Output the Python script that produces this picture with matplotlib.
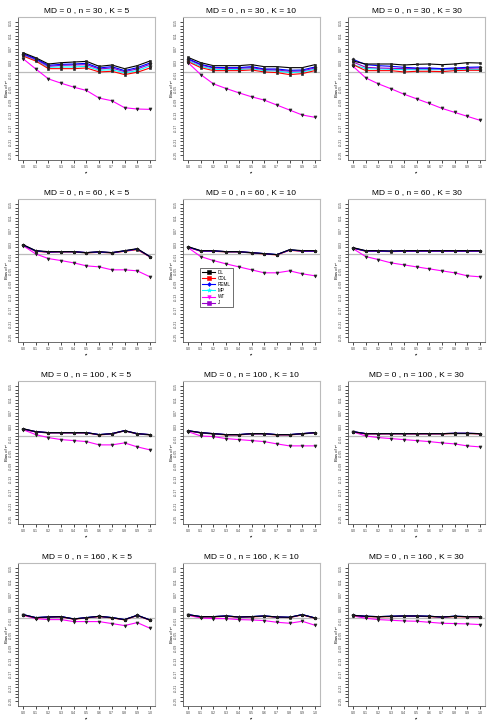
import numpy as np
import matplotlib
matplotlib.use("Agg")
import matplotlib.pyplot as plt
from matplotlib.ticker import FixedLocator
from matplotlib.lines import Line2D

plt.rcParams['font.family'] = ['Liberation Sans', 'DejaVu Sans']

tau2 = [0.0, 0.1, 0.2, 0.3, 0.4, 0.5, 0.6, 0.7, 0.8, 0.9, 1.0]
tau_labels = ["0.0", "0.1", "0.2", "0.3", "0.4", "0.5", "0.6", "0.7", "0.8", "0.9", "1.0"]
ytick_vals = [0.15, 0.11, 0.07, 0.03, -0.01, -0.05, -0.09, -0.13, -0.17, -0.21, -0.25]
ytick_labels = ["0.15", "0.11", "0.07", "0.03", "-0.01", "-0.05", "-0.09", "-0.13", "-0.17", "-0.21", "-0.25"]
methods = ["DL", "CDL", "REML", "MP", "WT", "J"]
sizes_n = [30, 60, 100, 160]
sizes_K = [5, 10, 30]

# ---- n = 30 ----
DL_30_5   = [0.058, 0.043, 0.024, 0.028, 0.030, 0.032, 0.017, 0.021, 0.010, 0.019, 0.033]
CDL_30_5  = [0.048, 0.033, 0.010, 0.010, 0.010, 0.012, 0.000, 0.002, -0.008, -0.001, 0.012]
REML_30_5 = [0.055, 0.040, 0.020, 0.023, 0.024, 0.026, 0.012, 0.016, 0.004, 0.013, 0.027]
MP_30_5   = [0.050, 0.035, 0.014, 0.015, 0.015, 0.017, 0.005, 0.007, -0.003, 0.004, 0.018]
WT_30_5   = [0.040, 0.009, -0.021, -0.034, -0.046, -0.056, -0.079, -0.087, -0.108, -0.112, -0.113]
J_30_5    = [0.053, 0.038, 0.017, 0.020, 0.021, 0.022, 0.009, 0.012, 0.001, 0.009, 0.023]

DL_30_10   = [0.044, 0.028, 0.019, 0.019, 0.019, 0.022, 0.016, 0.016, 0.013, 0.013, 0.022]
CDL_30_10  = [0.031, 0.013, 0.004, 0.004, 0.004, 0.006, 0.000, -0.002, -0.008, -0.005, 0.004]
REML_30_10 = [0.040, 0.023, 0.014, 0.013, 0.013, 0.016, 0.009, 0.009, 0.005, 0.006, 0.015]
MP_30_10   = [0.034, 0.017, 0.008, 0.007, 0.007, 0.010, 0.004, 0.003, -0.002, 0.000, 0.008]
WT_30_10   = [0.028, -0.008, -0.036, -0.050, -0.063, -0.075, -0.085, -0.100, -0.115, -0.130, -0.137]
J_30_10    = [0.038, 0.021, 0.012, 0.011, 0.011, 0.013, 0.007, 0.006, 0.002, 0.003, 0.012]

DL_30_30   = [0.033, 0.024, 0.024, 0.024, 0.021, 0.023, 0.024, 0.022, 0.024, 0.028, 0.027]
CDL_30_30  = [0.022, 0.004, 0.004, 0.004, 0.000, 0.002, 0.002, 0.001, 0.004, 0.005, 0.005]
REML_30_30 = [0.038, 0.022, 0.019, 0.017, 0.014, 0.012, 0.012, 0.010, 0.012, 0.014, 0.015]
MP_30_30   = [0.022, 0.010, 0.009, 0.008, 0.007, 0.007, 0.007, 0.007, 0.007, 0.007, 0.007]
WT_30_30   = [0.017, -0.018, -0.036, -0.051, -0.067, -0.081, -0.095, -0.110, -0.122, -0.134, -0.146]
J_30_30    = [0.030, 0.014, 0.012, 0.011, 0.010, 0.010, 0.010, 0.009, 0.010, 0.011, 0.012]

# ---- n = 60 ----
DL_60_5   = [0.028, 0.010, 0.007, 0.007, 0.007, 0.004, 0.007, 0.004, 0.010, 0.016, -0.008]
CDL_60_5  = [0.026, 0.008, 0.005, 0.006, 0.006, 0.003, 0.005, 0.003, 0.008, 0.013, -0.009]
REML_60_5 = [0.027, 0.009, 0.006, 0.007, 0.007, 0.004, 0.006, 0.004, 0.009, 0.015, -0.008]
MP_60_5   = [0.026, 0.009, 0.006, 0.006, 0.006, 0.003, 0.006, 0.003, 0.009, 0.014, -0.008]
WT_60_5   = [0.025, 0.000, -0.014, -0.020, -0.027, -0.036, -0.039, -0.048, -0.048, -0.051, -0.069]
J_60_5    = [0.027, 0.009, 0.006, 0.007, 0.007, 0.004, 0.006, 0.004, 0.009, 0.015, -0.008]

DL_60_10   = [0.022, 0.010, 0.010, 0.007, 0.007, 0.004, 0.001, -0.002, 0.013, 0.010, 0.010]
CDL_60_10  = [0.020, 0.008, 0.008, 0.006, 0.006, 0.003, 0.000, -0.003, 0.011, 0.008, 0.008]
REML_60_10 = [0.021, 0.009, 0.009, 0.007, 0.007, 0.004, 0.001, -0.002, 0.012, 0.009, 0.009]
MP_60_10   = [0.021, 0.009, 0.009, 0.006, 0.006, 0.003, 0.001, -0.002, 0.012, 0.009, 0.009]
WT_60_10   = [0.019, -0.008, -0.020, -0.030, -0.039, -0.048, -0.057, -0.057, -0.051, -0.060, -0.066]
J_60_10    = [0.021, 0.009, 0.009, 0.007, 0.007, 0.004, 0.001, -0.002, 0.012, 0.009, 0.009]

DL_60_30   = [0.019, 0.010, 0.010, 0.009, 0.010, 0.010, 0.010, 0.010, 0.010, 0.010, 0.010]
CDL_60_30  = [0.017, 0.008, 0.008, 0.007, 0.008, 0.008, 0.008, 0.008, 0.008, 0.008, 0.008]
REML_60_30 = [0.018, 0.009, 0.009, 0.008, 0.009, 0.009, 0.009, 0.009, 0.009, 0.009, 0.009]
MP_60_30   = [0.018, 0.009, 0.009, 0.008, 0.009, 0.009, 0.009, 0.009, 0.009, 0.009, 0.009]
WT_60_30   = [0.016, -0.008, -0.017, -0.027, -0.033, -0.039, -0.045, -0.051, -0.057, -0.066, -0.069]
J_60_30    = [0.018, 0.009, 0.009, 0.008, 0.009, 0.009, 0.009, 0.009, 0.009, 0.009, 0.009]

# ---- n = 100 ----
DL_100_5   = [0.022, 0.013, 0.010, 0.010, 0.010, 0.010, 0.004, 0.007, 0.016, 0.007, 0.004]
CDL_100_5  = [0.020, 0.012, 0.009, 0.009, 0.009, 0.009, 0.003, 0.006, 0.015, 0.006, 0.003]
REML_100_5 = [0.021, 0.013, 0.010, 0.010, 0.010, 0.010, 0.004, 0.007, 0.016, 0.007, 0.004]
MP_100_5   = [0.021, 0.012, 0.009, 0.009, 0.009, 0.009, 0.004, 0.006, 0.015, 0.006, 0.003]
WT_100_5   = [0.019, 0.004, -0.005, -0.011, -0.014, -0.017, -0.027, -0.027, -0.021, -0.033, -0.042]
J_100_5    = [0.021, 0.013, 0.010, 0.010, 0.010, 0.010, 0.004, 0.007, 0.016, 0.007, 0.004]

DL_100_10   = [0.016, 0.010, 0.007, 0.004, 0.004, 0.007, 0.007, 0.004, 0.004, 0.007, 0.010]
CDL_100_10  = [0.015, 0.009, 0.006, 0.003, 0.003, 0.006, 0.006, 0.003, 0.003, 0.006, 0.009]
REML_100_10 = [0.016, 0.010, 0.007, 0.004, 0.004, 0.007, 0.007, 0.004, 0.004, 0.007, 0.010]
MP_100_10   = [0.015, 0.009, 0.006, 0.004, 0.004, 0.006, 0.006, 0.004, 0.004, 0.006, 0.009]
WT_100_10   = [0.013, 0.000, -0.002, -0.008, -0.011, -0.014, -0.017, -0.024, -0.030, -0.030, -0.030]
J_100_10    = [0.016, 0.010, 0.007, 0.004, 0.004, 0.007, 0.007, 0.004, 0.004, 0.007, 0.010]

DL_100_30   = [0.013, 0.007, 0.007, 0.007, 0.007, 0.007, 0.007, 0.007, 0.008, 0.008, 0.007]
CDL_100_30  = [0.012, 0.006, 0.006, 0.006, 0.006, 0.006, 0.006, 0.006, 0.007, 0.007, 0.006]
REML_100_30 = [0.013, 0.007, 0.007, 0.007, 0.007, 0.007, 0.007, 0.007, 0.008, 0.008, 0.007]
MP_100_30   = [0.012, 0.007, 0.007, 0.007, 0.007, 0.007, 0.007, 0.007, 0.007, 0.007, 0.007]
WT_100_30   = [0.012, 0.000, -0.005, -0.008, -0.011, -0.014, -0.017, -0.021, -0.024, -0.030, -0.033]
J_100_30    = [0.013, 0.007, 0.007, 0.007, 0.007, 0.007, 0.007, 0.007, 0.008, 0.008, 0.007]

# ---- n = 160 ----
DL_160_5   = [0.010, 0.001, 0.003, 0.004, -0.003, 0.001, 0.005, 0.001, -0.005, 0.008, -0.006]
CDL_160_5  = [0.009, 0.000, 0.002, 0.003, -0.004, 0.000, 0.004, 0.000, -0.006, 0.007, -0.007]
REML_160_5 = [0.010, 0.001, 0.003, 0.004, -0.003, 0.001, 0.005, 0.001, -0.005, 0.008, -0.006]
MP_160_5   = [0.010, 0.001, 0.003, 0.004, -0.003, 0.001, 0.005, 0.001, -0.005, 0.008, -0.006]
WT_160_5   = [0.008, -0.002, -0.005, -0.005, -0.011, -0.011, -0.011, -0.017, -0.023, -0.014, -0.031]
J_160_5    = [0.010, 0.001, 0.003, 0.004, -0.003, 0.001, 0.005, 0.001, -0.005, 0.008, -0.006]

DL_160_10   = [0.010, 0.004, 0.004, 0.006, 0.003, 0.004, 0.006, 0.003, 0.002, 0.010, 0.000]
CDL_160_10  = [0.009, 0.003, 0.003, 0.005, 0.002, 0.003, 0.005, 0.002, 0.001, 0.009, -0.001]
REML_160_10 = [0.010, 0.004, 0.004, 0.006, 0.003, 0.004, 0.006, 0.003, 0.002, 0.010, 0.000]
MP_160_10   = [0.010, 0.004, 0.004, 0.006, 0.003, 0.004, 0.006, 0.003, 0.002, 0.010, 0.000]
WT_160_10   = [0.008, 0.000, -0.002, -0.002, -0.005, -0.006, -0.008, -0.013, -0.016, -0.010, -0.022]
J_160_10    = [0.010, 0.004, 0.004, 0.006, 0.003, 0.004, 0.006, 0.003, 0.002, 0.010, 0.000]

DL_160_30   = [0.008, 0.005, 0.004, 0.005, 0.006, 0.006, 0.005, 0.003, 0.005, 0.004, 0.004]
CDL_160_30  = [0.007, 0.004, 0.003, 0.004, 0.005, 0.005, 0.004, 0.002, 0.004, 0.003, 0.003]
REML_160_30 = [0.008, 0.005, 0.004, 0.005, 0.006, 0.006, 0.005, 0.003, 0.005, 0.004, 0.004]
MP_160_30   = [0.008, 0.005, 0.004, 0.005, 0.006, 0.006, 0.005, 0.003, 0.005, 0.004, 0.004]
WT_160_30   = [0.006, -0.001, -0.005, -0.007, -0.009, -0.010, -0.013, -0.016, -0.017, -0.018, -0.020]
J_160_30    = [0.008, 0.005, 0.004, 0.005, 0.006, 0.006, 0.005, 0.003, 0.005, 0.004, 0.004]

panels = {
    (30, 5): [DL_30_5, CDL_30_5, REML_30_5, MP_30_5, WT_30_5, J_30_5],
    (30, 10): [DL_30_10, CDL_30_10, REML_30_10, MP_30_10, WT_30_10, J_30_10],
    (30, 30): [DL_30_30, CDL_30_30, REML_30_30, MP_30_30, WT_30_30, J_30_30],
    (60, 5): [DL_60_5, CDL_60_5, REML_60_5, MP_60_5, WT_60_5, J_60_5],
    (60, 10): [DL_60_10, CDL_60_10, REML_60_10, MP_60_10, WT_60_10, J_60_10],
    (60, 30): [DL_60_30, CDL_60_30, REML_60_30, MP_60_30, WT_60_30, J_60_30],
    (100, 5): [DL_100_5, CDL_100_5, REML_100_5, MP_100_5, WT_100_5, J_100_5],
    (100, 10): [DL_100_10, CDL_100_10, REML_100_10, MP_100_10, WT_100_10, J_100_10],
    (100, 30): [DL_100_30, CDL_100_30, REML_100_30, MP_100_30, WT_100_30, J_100_30],
    (160, 5): [DL_160_5, CDL_160_5, REML_160_5, MP_160_5, WT_160_5, J_160_5],
    (160, 10): [DL_160_10, CDL_160_10, REML_160_10, MP_160_10, WT_160_10, J_160_10],
    (160, 30): [DL_160_30, CDL_160_30, REML_160_30, MP_160_30, WT_160_30, J_160_30],
}

colors = {"DL": "black", "CDL": "red", "REML": "blue", "MP": "cyan", "WT": "magenta", "J": "#9900CC"}
markers = {"DL": "s", "CDL": "s", "REML": "D", "MP": "*", "WT": "v", "J": "s"}
msizes = {"DL": 1.8, "CDL": 1.8, "REML": 1.6, "MP": 2.6, "WT": 2.2, "J": 1.8}
draw_order = ["WT", "MP", "CDL", "J", "REML", "DL"]

W, H = 495, 726
fig = plt.figure(figsize=(W / 100, H / 100), dpi=100)

col_left = [18, 183, 348]
row_top = [17, 199, 381, 563]
aw, ah = 137, 143

for r, n in enumerate(sizes_n):
    for c, K in enumerate(sizes_K):
        ax = fig.add_axes([col_left[c] / W, 1 - (row_top[r] + ah) / H, aw / W, ah / H])
        data = dict(zip(methods, panels[(n, K)]))
        ax.axhline(0, color="#BBBBBB", lw=0.9, zorder=1)
        for m in draw_order:
            ax.plot(tau2, data[m], color=colors[m], lw=0.8, marker=markers[m],
                    ms=msizes[m], mfc="#222222", mec="#222222", mew=0.4,
                    zorder=3, label=m)
        ax.set_xlim(-0.04, 1.04)
        ax.set_ylim(-0.266, 0.166)
        ax.set_xticks(tau2)
        ax.set_xticklabels(tau_labels, fontsize=2.6, color="#444444")
        ax.yaxis.set_major_locator(FixedLocator(ytick_vals))
        ax.set_yticklabels(ytick_labels, fontsize=2.6, rotation=90, va="center", color="#444444")
        ax.yaxis.set_minor_locator(FixedLocator(list(np.arange(-0.25, 0.1501, 0.01))))
        ax.tick_params(axis="both", which="both", length=2.0, width=0.5, pad=1.5, color="black")
        ax.tick_params(axis="y", which="minor", length=2.0, width=0.5)
        for s in ["top", "right"]:
            ax.spines[s].set_color("#BBBBBB")
            ax.spines[s].set_linewidth(0.8)
        for s in ["left", "bottom"]:
            ax.spines[s].set_color("#555555")
            ax.spines[s].set_linewidth(0.6)
        ax.set_title(f"MD = 0 , n = {n} , K = {K}", fontsize=6.0, pad=3.5)
        ax.set_ylabel("Bias of τ²", fontsize=3.0)
        ax.yaxis.set_label_coords(-0.068, 0.5)
        ax.set_xlabel("τ²", fontsize=3.2, labelpad=1.5)
        if (n, K) == (60, 10):
            handles = [Line2D([0], [0], color=colors[m], lw=0.8, marker=markers[m],
                              ms=msizes[m] + 0.4, mfc=colors[m] if m != "DL" else "black",
                              mec=colors[m] if m != "DL" else "black", mew=0.4)
                       for m in methods]
            leg = ax.legend(handles, methods,
                            loc="upper left", bbox_to_anchor=(0.11, 0.535), fontsize=3.3,
                            frameon=True, fancybox=False, edgecolor="black",
                            handlelength=2.8, borderpad=0.4, labelspacing=0.25,
                            handletextpad=0.6)
            leg.get_frame().set_linewidth(0.5)

fig.savefig("out.png", dpi=100)
